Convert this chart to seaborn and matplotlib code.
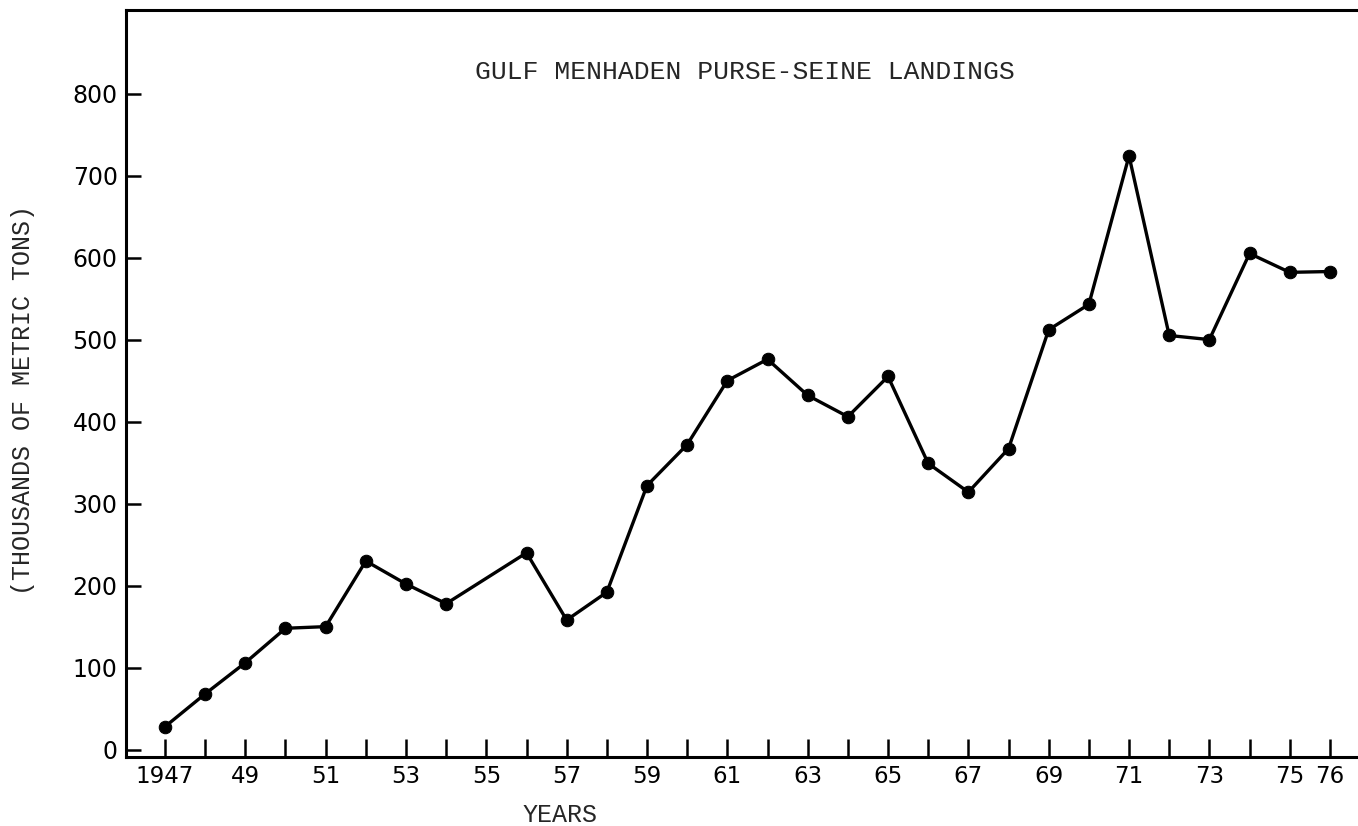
import pandas as pd
import numpy as np
import matplotlib
matplotlib.use('Agg')
import matplotlib.pyplot as plt
import seaborn as sns

# Gulf menhaden purse-seine landings (thousands of metric tons)
# 1955 has no point on the original, the line goes straight from 1954 to 1956
years = [1947, 1948, 1949, 1950, 1951, 1952, 1953, 1954, 1956, 1957,
         1958, 1959, 1960, 1961, 1962, 1963, 1964, 1965, 1966, 1967,
         1968, 1969, 1970, 1971, 1972, 1973, 1974, 1975, 1976]
landings = [28, 68, 106, 148, 150, 230, 202, 178, 240, 158,
            192, 322, 372, 450, 476, 432, 406, 455, 349, 314,
            367, 512, 543, 724, 505, 500, 605, 582, 583]

tick_years = list(range(1947, 1977))
label_years = [1947, 1949, 1951, 1953, 1955, 1957, 1959, 1961, 1963,
               1965, 1967, 1969, 1971, 1973, 1975, 1976]
y_ticks = [0, 100, 200, 300, 400, 500, 600, 700, 800]

df = pd.DataFrame({'Year': years, 'Landings': landings})

sns.set_style('ticks')
plt.rcParams['font.family'] = ['DejaVu Sans']
plt.rcParams['xtick.direction'] = 'in'
plt.rcParams['ytick.direction'] = 'in'

fig = plt.figure(figsize=(13.58, 8.26), dpi=100)
ax = fig.add_axes([0.0928, 0.0835, 0.9072, 0.9045])

sns.lineplot(data=df, x='Year', y='Landings', ax=ax, color='black',
             linewidth=2.4, marker='o', markersize=9, markeredgecolor='black')

ax.set_xlim(1946.03, 1976.7)
ax.set_ylim(-9, 902)

ax.set_xticks(tick_years)
ax.set_xticklabels([('1947' if y == 1947 else str(y)[2:]) if y in label_years else ''
                    for y in tick_years])
ax.set_yticks(y_ticks)
ax.tick_params(axis='x', direction='in', length=13, width=1.8, pad=6,
               labelsize=16.5, colors='black')
ax.tick_params(axis='y', direction='in', length=11, width=1.8, pad=6,
               labelsize=17, colors='black')

for side in ['left', 'bottom', 'top']:
    ax.spines[side].set_linewidth(2.2)
    ax.spines[side].set_color('black')
ax.spines['right'].set_visible(False)

ax.set_xlabel('')
ax.set_ylabel('')

mono = ['Liberation Mono', 'DejaVu Sans Mono']
ax.text(0.502, 0.917, 'GULF MENHADEN PURSE-SEINE LANDINGS', transform=ax.transAxes,
        ha='center', va='center', fontsize=19, family=mono)
fig.text(23 / 1358, 1 - 400 / 826, '(THOUSANDS OF METRIC TONS)', rotation=90,
         ha='center', va='center', fontsize=18, family=mono)
fig.text(560 / 1358, 1 - 815 / 826, 'YEARS', ha='center', va='center',
         fontsize=18, family=mono)

fig.savefig('out.png', dpi=100)
